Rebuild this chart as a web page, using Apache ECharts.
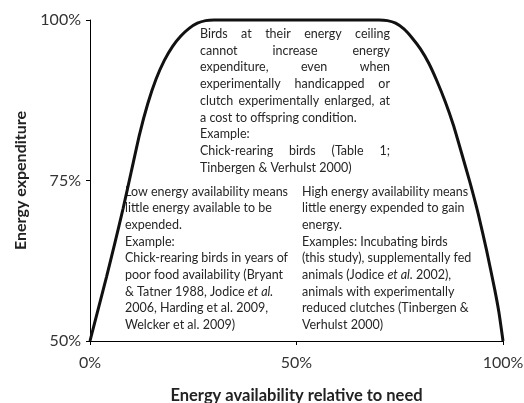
<!DOCTYPE html>
<html><head><meta charset="utf-8">
<script src="https://cdn.jsdelivr.net/npm/echarts@6/dist/echarts.min.js"></script>
<style>html,body{margin:0;padding:0;background:#fff}#c{width:524px;height:403px}</style>
</head><body><div id="c"></div>
<script>
// Curve: x = energy availability (%), y = energy expenditure (%)
const curveX = [0, 2, 4, 6, 8, 10, 12, 14, 16, 18, 20, 22, 24, 26, 28, 30, 35, 40, 45, 50, 55, 60, 65, 70, 72, 74, 76, 78, 80, 82, 84, 86, 88, 90, 92, 94, 96, 98, 99, 100];
const curveY = [50, 55, 60, 65.2, 70.6, 76.4, 82.2, 87, 90.8, 93.7, 95.9, 97.5, 98.7, 99.5, 99.9, 100, 100, 100, 100, 100, 100, 100, 100, 100, 99.9, 99.5, 98.6, 97.2, 95.5, 93.3, 90.5, 87.3, 83.6, 79.2, 74.7, 69.8, 64.2, 58, 54.5, 50];
const xTickLabels = ['0%', '50%', '100%'];
const yTickLabels = ['50%', '75%', '100%'];
const xName = 'Energy availability relative to need';
const yName = 'Energy expenditure';

const topLines = [
  ['Birds at their energy ceiling', true],
  ['cannot increase energy', true],
  ['expenditure, even when', true],
  ['experimentally handicapped or', true],
  ['clutch experimentally enlarged, at', true],
  ['a cost to offspring condition.', false],
  ['Example:', false],
  ['Chick-rearing birds (Table 1;', true],
  ['Tinbergen & Verhulst 2000)', false]
];
const leftLines = [
  'Low energy availability means',
  'little energy available to be',
  'expended.',
  'Example:',
  'Chick-rearing birds in years of',
  'poor food availability (Bryant',
  '& Tatner 1988, Jodice {i|et al.}',
  '2006, Harding et al. 2009,',
  'Welcker et al. 2009)'
];
const rightLines = [
  'High energy availability means',
  'little energy expended to gain',
  'energy.',
  'Examples: Incubating birds',
  '(this study), supplementally fed',
  'animals (Jodice {i|et al.} 2002),',
  'animals with experimentally',
  'reduced clutches (Tinbergen &',
  'Verhulst 2000)'
];

const FONT_FAMILY = 'Lato';
const FONT_SIZE = 12.5;
const TEXT_COLOR = '#262626';
const LINE_H = 16.7;

const ctx = document.createElement('canvas').getContext('2d');
ctx.font = FONT_SIZE + 'px ' + FONT_FAMILY;
function tw(s) { return ctx.measureText(s).width; }

const graphics = [];
function addText(x, y, text) {
  graphics.push({
    type: 'text', x: x, y: y, silent: true,
    style: {
      text: text, fontSize: FONT_SIZE, fontFamily: FONT_FAMILY, fill: TEXT_COLOR,
      align: 'left', verticalAlign: 'middle',
      rich: { i: { fontStyle: 'italic', fontSize: FONT_SIZE, fontFamily: FONT_FAMILY, fill: TEXT_COLOR } }
    }
  });
}
function addJustified(x0, x1, y, line) {
  const words = line.split(' ');
  const total = words.reduce((a, w) => a + tw(w), 0);
  const gap = (x1 - x0 - total) / (words.length - 1);
  let x = x0;
  words.forEach(w => { addText(x, y, w); x += tw(w) + gap; });
}

topLines.forEach((l, i) => {
  const y = 34 + i * LINE_H;
  if (l[1]) addJustified(200, 390, y, l[0]); else addText(200, y, l[0]);
});
leftLines.forEach((l, i) => addText(125, 191.5 + i * LINE_H, l));
rightLines.forEach((l, i) => addText(302, 191.5 + i * LINE_H, l));

const chart = echarts.init(document.getElementById('c'), null, { renderer: 'canvas' });
const axisLabelStyle = { fontFamily: FONT_FAMILY, fontSize: 16, color: '#333' };
chart.setOption({
  animation: false,
  backgroundColor: '#fff',
  grid: { left: 90, right: 21, top: 20, bottom: 62, containLabel: false, outerBoundsMode: 'none' },
  xAxis: {
    type: 'value', min: 0, max: 100, interval: 50,
    name: xName, nameLocation: 'middle', nameGap: 46,
    nameTextStyle: { fontFamily: FONT_FAMILY, fontWeight: 'bold', fontSize: 16.5, color: '#222' },
    axisLine: { show: true, lineStyle: { color: '#000', width: 1 } },
    axisTick: { show: true, length: 4, lineStyle: { color: '#000' } },
    axisLabel: Object.assign({ margin: 14, formatter: v => xTickLabels[v / 50] }, axisLabelStyle),
    splitLine: { show: false }
  },
  yAxis: {
    type: 'value', min: 50, max: 100, interval: 25,
    name: yName, nameLocation: 'middle', nameGap: 61,
    nameTextStyle: { fontFamily: FONT_FAMILY, fontWeight: 'bold', fontSize: 16, color: '#222' },
    axisLine: { show: true, lineStyle: { color: '#000', width: 1 } },
    axisTick: { show: true, length: 4, lineStyle: { color: '#000' } },
    axisLabel: Object.assign({ margin: 9, formatter: v => yTickLabels[(v - 50) / 25] }, axisLabelStyle),
    splitLine: { show: false }
  },
  series: [{
    type: 'line', data: curveX.map((x, i) => [x, curveY[i]]),
    showSymbol: false, smooth: 0.2, clip: false,
    lineStyle: { color: '#111', width: 3 }
  }],
  graphic: graphics
});
</script></body></html>
